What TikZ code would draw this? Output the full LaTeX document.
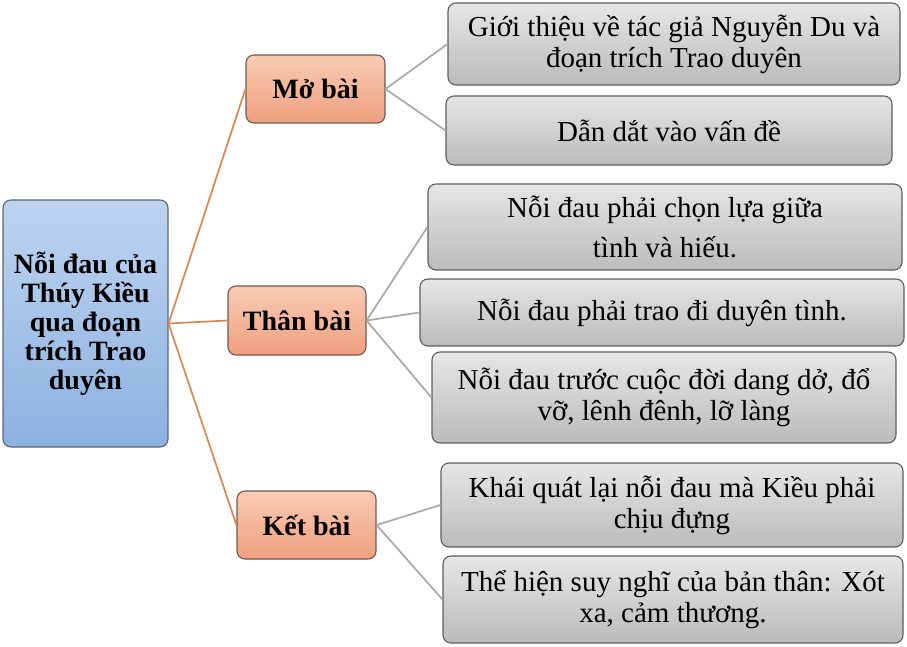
\documentclass[tikz,border=0pt]{standalone}
\usepackage{fontspec}
\setmainfont{Liberation Serif}
\definecolor{rootTop}{HTML}{BDD4F1}
\definecolor{rootBot}{HTML}{8DB1E0}
\definecolor{rootLine}{HTML}{56677D}
\definecolor{midTop}{HTML}{F9CBB4}
\definecolor{midBot}{HTML}{EFA07F}
\definecolor{midLine}{HTML}{6E5A52}
\definecolor{leafTop}{HTML}{E6E6E6}
\definecolor{leafBot}{HTML}{BBBBBB}
\definecolor{leafLine}{HTML}{5E5E5E}
\definecolor{orangeLink}{HTML}{D9864F}
\definecolor{grayLink}{HTML}{A8A8A8}
\begin{document}
\begin{tikzpicture}[x=1pt,y=-1pt,
  box/.style={rectangle,rounded corners=8pt,line width=1.1pt,inner sep=0pt,align=center},
  rootbox/.style={box,draw=rootLine,top color=rootTop,bottom color=rootBot,
    font=\fontsize{28}{29}\selectfont\bfseries},
  midbox/.style={box,draw=midLine,top color=midTop,bottom color=midBot,
    font=\fontsize{28}{30}\selectfont\bfseries},
  leafbox/.style={box,draw=leafLine,top color=leafTop,bottom color=leafBot,
    font=\fontsize{29}{31}\selectfont},
  olink/.style={draw=orangeLink,line width=1.7pt},
  glink/.style={draw=grayLink,line width=1.7pt}
]
\useasboundingbox (0,0) rectangle (907,647);
\node[rootbox,minimum width=165pt,minimum height=247pt] (root) at (85.5,323.5)
  {Nỗi đau của\\Thúy Kiều\\qua đoạn\\trích Trao\\duyên};
\node[midbox,minimum width=139pt,minimum height=68pt] (mo) at (315.5,89) {Mở bài};
\node[midbox,minimum width=138pt,minimum height=69pt] (than) at (297,320.5) {Thân bài};
\node[midbox,minimum width=139pt,minimum height=68pt] (ket) at (306.5,525) {Kết bài};
\node[leafbox,minimum width=452pt,minimum height=82pt] (l1) at (674,44)
  {Giới thiệu về tác giả Nguyễn Du và\\đoạn trích Trao duyên};
\node[leafbox,minimum width=446pt,minimum height=69pt] (l2) at (669,130.5)
  {Dẫn dắt vào vấn đề};
\node[leafbox,minimum width=474pt,minimum height=86pt] (l3) at (665,227)
  {Nỗi đau phải chọn lựa giữa\\[9pt]tình và hiếu.};
\node[leafbox,minimum width=484pt,minimum height=67pt] (l4) at (662,312.5)
  {Nỗi đau phải trao đi duyên tình.};
\node[leafbox,minimum width=464pt,minimum height=91pt] (l5) at (664,397.5)
  {Nỗi đau trước cuộc đời dang dở, đổ\\vỡ, lênh đênh, lỡ làng};
\node[leafbox,minimum width=462pt,minimum height=84pt] (l6) at (672,505)
  {Khái quát lại nỗi đau mà Kiều phải\\chịu đựng};
\node[leafbox,minimum width=460pt,minimum height=87pt] (l7) at (673,599.5)
  {Thể hiện suy nghĩ của bản thân: Xót\\xa, cảm thương.};
\draw[olink] (root.east) -- (mo.west);
\draw[olink] (root.east) -- (than.west);
\draw[olink] (root.east) -- (ket.west);
\draw[glink] (mo.east) -- (l1.west);
\draw[glink] (mo.east) -- (l2.west);
\draw[glink] (than.east) -- (l3.west);
\draw[glink] (than.east) -- (l4.west);
\draw[glink] (than.east) -- (l5.west);
\draw[glink] (ket.east) -- (l6.west);
\draw[glink] (ket.east) -- (l7.west);
\end{tikzpicture}
\end{document}
